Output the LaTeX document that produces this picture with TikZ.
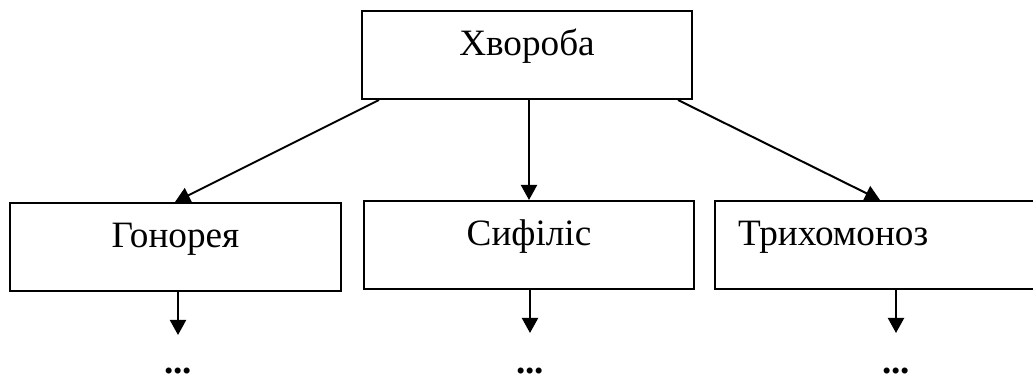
\documentclass[tikz,border=0pt]{standalone}
\usepackage{fontspec}
\setmainfont{Liberation Serif}
\usetikzlibrary{arrows.meta, positioning, calc}

\tikzset{
  box/.style={draw, line width=1pt, inner sep=0pt, minimum height=44pt,
    text height=22.5pt, text depth=21.5pt, font=\fontsize{18.6}{21}\selectfont},
  arr/.style={-{Triangle[length=7.5pt,width=8pt]}, line width=1pt},
  etc/.style={font=\fontsize{18.6}{21}\selectfont\bfseries, inner sep=0pt, anchor=base}
}

\begin{document}
\begin{tikzpicture}[x=0.5pt, y=-0.5pt]
\clip (0,0) rectangle (1033,378);
% top
\node[box, anchor=north, minimum width=165pt] (top) at (527,10) {Хвороба};
% three kinds
\node[box, anchor=north, minimum width=165.5pt] (gon) at (175.5,202) {Гонорея};
\node[box, anchor=north, minimum width=165pt] (sif) at (529,200) {Сифіліс};
\node[box, anchor=north west, align=left, text width=150pt, inner xsep=11.5pt]
  (tri) at (714,200) {Трихомоноз};
\draw[arr] ([xshift=9pt]top.south west) -- ([xshift=83pt]gon.north west);
\draw[arr] (top.south -| sif.north) -- (sif.north);
\draw[arr] ([xshift=-7.5pt]top.south east) -- ([xshift=83pt]tri.north west);
% below
\coordinate (e1) at (178,335);
\coordinate (e2) at (530,333);
\coordinate (e3) at (896,333);
\draw[arr] (gon.south -| e1) -- (e1);
\draw[arr] (sif.south -| e2) -- (e2);
\draw[arr] (tri.south -| e3) -- (e3);
\node[etc] (d1) at (178,374) {...};
\node[etc] (d2) at (530,374) {...};
\node[etc] (d3) at (896,374) {...};
\end{tikzpicture}
\end{document}
